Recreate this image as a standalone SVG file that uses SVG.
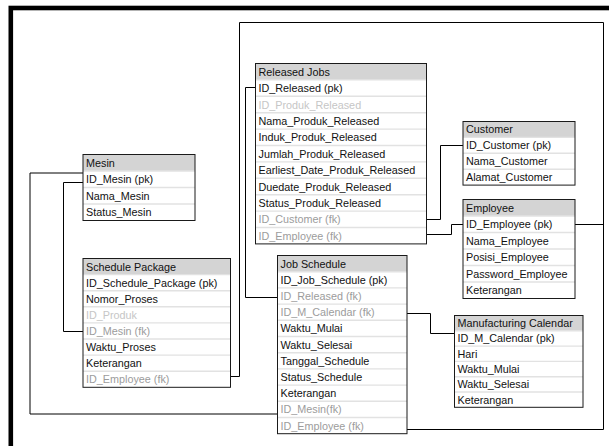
<svg xmlns="http://www.w3.org/2000/svg" width="609" height="446" viewBox="0 0 609 446">
  <style>
    .frame { fill: none; stroke: #000; stroke-width: 4.6; }
    .box { fill: none; stroke: #1a1a1a; stroke-width: 1; }
    .bg { fill: #fff; }
    .hdr { fill: #d4d4d4; }
    .sep { fill: none; stroke: #e2e2e2; stroke-width: 1.4; }
    .link { fill: none; stroke: #000; stroke-width: 1; }
    text { font-family: "Liberation Sans", Arial, sans-serif; font-size: 10.8px; fill: #111; }
    .fk { fill: #9c9c9c; }
    .dim { fill: #c6c6c6; }
  </style>

  <rect width="609" height="446" fill="#fff"/>
  <rect class="frame" x="10.8" y="8" width="700" height="500"/>

  <!-- relationship lines -->
  <g id="connectors">
    <path class="link" d="M255.5,87.5 H245.5 V297.5 H277.5"/>
    <path class="link" d="M426.5,219.5 H440.5 V145.5 H463"/>
    <path class="link" d="M426.5,234.5 H451.5 V224.5 H463"/>
    <path class="link" d="M575,224.5 H603.5"/>
    <path class="link" d="M230.5,376.5 H239.5 V22.5 H603.5 V429.5 H407"/>
    <path class="link" d="M83,182.5 H63.5 V331.5 H83"/>
    <path class="link" d="M83,173 H30 V414 H277.5"/>
    <path class="link" d="M407,313.5 H430.5 V333.5 H454.5"/>
  </g>

  <!-- Released Jobs -->
  <g id="released-jobs" transform="translate(255.5,63.5)">
    <rect class="bg" width="171" height="180.4"/>
    <rect class="hdr" width="171" height="16.4"/>
    <path class="sep" d="M0,16.4H171M0,32.8H171M0,49.2H171M0,65.6H171M0,82H171M0,98.4H171M0,114.8H171M0,131.2H171M0,147.6H171M0,164H171"/>
    <text x="3" y="12.2">Released Jobs</text>
    <text x="3" y="28.6">ID_Released (pk)</text>
    <text x="3" y="45" class="dim">ID_Produk_Released</text>
    <text x="3" y="61.4">Nama_Produk_Released</text>
    <text x="3" y="77.8">Induk_Produk_Released</text>
    <text x="3" y="94.2">Jumlah_Produk_Released</text>
    <text x="3" y="110.6">Earliest_Date_Produk_Released</text>
    <text x="3" y="127">Duedate_Produk_Released</text>
    <text x="3" y="143.4">Status_Produk_Released</text>
    <text x="3" y="159.8" class="fk">ID_Customer (fk)</text>
    <text x="3" y="176.2" class="fk">ID_Employee (fk)</text>
    <rect class="box" width="171" height="180.4"/>
  </g>

  <!-- Customer -->
  <g id="customer" transform="translate(463,121.5)">
    <rect class="bg" width="112" height="63.6"/>
    <rect class="hdr" width="112" height="15.9"/>
    <path class="sep" d="M0,15.9H112M0,31.8H112M0,47.7H112"/>
    <text x="3" y="11.95">Customer</text>
    <text x="3" y="27.85">ID_Customer (pk)</text>
    <text x="3" y="43.75">Nama_Customer</text>
    <text x="3" y="59.65">Alamat_Customer</text>
    <rect class="box" width="112" height="63.6"/>
  </g>

  <!-- Employee -->
  <g id="employee" transform="translate(463,199.5)">
    <rect class="bg" width="112" height="99"/>
    <rect class="hdr" width="112" height="16.5"/>
    <path class="sep" d="M0,16.5H112M0,33H112M0,49.5H112M0,66H112M0,82.5H112"/>
    <text x="3" y="12.25">Employee</text>
    <text x="3" y="28.75">ID_Employee (pk)</text>
    <text x="3" y="45.25">Nama_Employee</text>
    <text x="3" y="61.75">Posisi_Employee</text>
    <text x="3" y="78.25">Password_Employee</text>
    <text x="3" y="94.75">Keterangan</text>
    <rect class="box" width="112" height="99"/>
  </g>

  <!-- Mesin -->
  <g id="mesin" transform="translate(83,154.5)">
    <rect class="bg" width="112" height="66"/>
    <rect class="hdr" width="112" height="16.5"/>
    <path class="sep" d="M0,16.5H112M0,33H112M0,49.5H112"/>
    <text x="3" y="12.25">Mesin</text>
    <text x="3" y="28.75">ID_Mesin (pk)</text>
    <text x="3" y="45.25">Nama_Mesin</text>
    <text x="3" y="61.75">Status_Mesin</text>
    <rect class="box" width="112" height="66"/>
  </g>

  <!-- Schedule Package -->
  <g id="schedule-package" transform="translate(83,258.5)">
    <rect class="bg" width="147.5" height="128.8"/>
    <rect class="hdr" width="147.5" height="16.1"/>
    <path class="sep" d="M0,16.1H147.5M0,32.2H147.5M0,48.3H147.5M0,64.4H147.5M0,80.5H147.5M0,96.6H147.5M0,112.7H147.5"/>
    <text x="3" y="12.05">Schedule Package</text>
    <text x="3" y="28.15">ID_Schedule_Package (pk)</text>
    <text x="3" y="44.25">Nomor_Proses</text>
    <text x="3" y="60.35" class="dim">ID_Produk</text>
    <text x="3" y="76.45" class="fk">ID_Mesin (fk)</text>
    <text x="3" y="92.55">Waktu_Proses</text>
    <text x="3" y="108.65">Keterangan</text>
    <text x="3" y="124.75" class="fk">ID_Employee (fk)</text>
    <rect class="box" width="147.5" height="128.8"/>
  </g>

  <!-- Job Schedule -->
  <g id="job-schedule" transform="translate(277.5,255.5)">
    <rect class="bg" width="129.5" height="178.2"/>
    <rect class="hdr" width="129.5" height="16.2"/>
    <path class="sep" d="M0,16.2H129.5M0,32.4H129.5M0,48.6H129.5M0,64.8H129.5M0,81H129.5M0,97.2H129.5M0,113.4H129.5M0,129.6H129.5M0,145.8H129.5M0,162H129.5"/>
    <text x="3" y="12.1">Job Schedule</text>
    <text x="3" y="28.3">ID_Job_Schedule (pk)</text>
    <text x="3" y="44.5" class="fk">ID_Released (fk)</text>
    <text x="3" y="60.7" class="fk">ID_M_Calendar (fk)</text>
    <text x="3" y="76.9">Waktu_Mulai</text>
    <text x="3" y="93.1">Waktu_Selesai</text>
    <text x="3" y="109.3">Tanggal_Schedule</text>
    <text x="3" y="125.5">Status_Schedule</text>
    <text x="3" y="141.7">Keterangan</text>
    <text x="3" y="157.9" class="fk">ID_Mesin(fk)</text>
    <text x="3" y="174.1" class="fk">ID_Employee (fk)</text>
    <rect class="box" width="129.5" height="178.2"/>
  </g>

  <!-- Manufacturing Calendar -->
  <g id="manufacturing-calendar" transform="translate(454.5,315.5)">
    <rect class="bg" width="128.5" height="91.8"/>
    <rect class="hdr" width="128.5" height="15.3"/>
    <path class="sep" d="M0,15.3H128.5M0,30.6H128.5M0,45.9H128.5M0,61.2H128.5M0,76.5H128.5"/>
    <text x="3" y="11.65">Manufacturing Calendar</text>
    <text x="3" y="26.95">ID_M_Calendar (pk)</text>
    <text x="3" y="42.25">Hari</text>
    <text x="3" y="57.55">Waktu_Mulai</text>
    <text x="3" y="72.85">Waktu_Selesai</text>
    <text x="3" y="88.15">Keterangan</text>
    <rect class="box" width="128.5" height="91.8"/>
  </g>
</svg>
